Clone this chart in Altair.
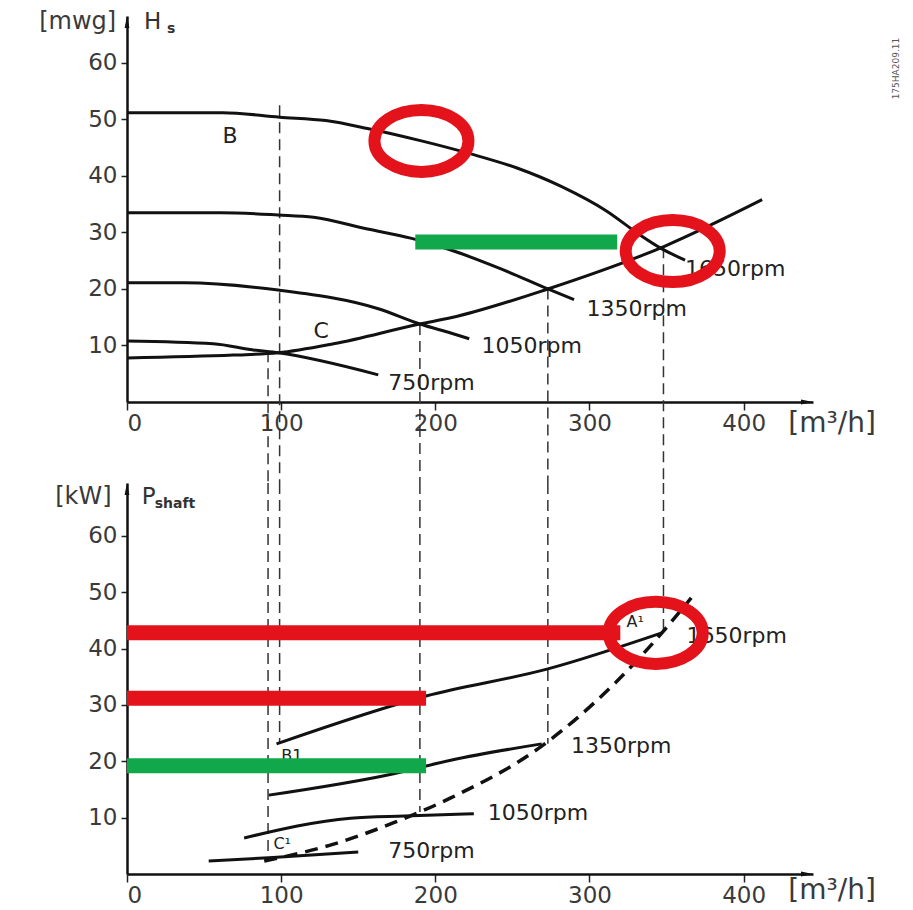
import altair as alt
import pandas as pd

FONT = "DejaVu Sans"
X_MAX = 445
TOP_Y_MAX = 68.3
BOT_Y_MAX = 69.4
W = 686
H_TOP = 386
H_BOT = 391
GAP = 81
X_TICKS = [0, 100, 200, 300, 400]
Y_TICKS = [10, 20, 30, 40, 50, 60]
RED = "#e3121b"
GREEN = "#10a84a"

# ---------------- top panel: head curves H_s [mwg] vs flow [m3/h]
head_q_1650 = [0, 62, 99, 129, 156, 191, 223, 253, 282, 311, 331, 347, 362]
head_h_1650 = [51.2, 51.2, 50.4, 49.8, 48.4, 46.2, 43.9, 41.4, 38.1, 33.8, 29.9, 27.1, 25.1]
head_q_1350 = [0, 61, 98, 121, 156, 184, 210, 243, 273, 290]
head_h_1350 = [33.5, 33.5, 33.1, 32.7, 30.6, 29.0, 26.9, 23.5, 20.0, 18.1]
head_q_1050 = [0, 37, 98, 163, 190, 210, 222]
head_h_1050 = [21.1, 21.1, 19.8, 16.5, 13.8, 12.2, 11.2]
head_q_750 = [0, 56, 82, 98, 163]
head_h_750 = [10.8, 10.3, 9.2, 8.7, 4.8]
system_q = [0, 69, 98, 134, 190, 210, 273, 349, 412]
system_h = [7.8, 8.3, 8.7, 10.3, 13.8, 14.9, 20.0, 27.6, 35.8]

# ---------------- bottom panel: shaft power [kW] vs flow
pow_q_1650 = [97, 194, 273, 347]
pow_p_1650 = [23.1, 31.6, 36.4, 42.8]
pow_q_1350 = [92, 173, 210, 269]
pow_p_1350 = [14.0, 17.8, 20.2, 23.1]
pow_q_1050 = [76, 145, 180, 225]
pow_p_1050 = [6.4, 9.9, 10.3, 10.7]
pow_q_750 = [53, 92, 150]
pow_p_750 = [2.3, 2.9, 3.9]
pow_sys_q = [89, 134, 173, 210, 269, 317, 347, 366]
pow_sys_p = [2.3, 5.3, 9.1, 13.5, 22.7, 34.0, 42.8, 49.0]

# ---------------- vertical dashed guide lines
dash_q = [91.5, 99, 190, 273, 348]
dash_top_start = [9.0, 52.5, 13.8, 20.1, 27.4]
dash_bot_end = [2.3, 23.1, 11.0, 23.1, 42.8]

# ---------------- highlight bars
top_green_q = [187, 318]
top_green_h = 28.3
bot_bar_q2 = [320, 194, 194]
bot_bar_p = [42.8, 31.2, 19.2]
bot_bar_color = [RED, RED, GREEN]

# ---------------- red rings
top_ring_q = [191, 354]
top_ring_h = [46.2, 26.7]
bot_ring_q = [343]
bot_ring_p = [42.8]

# ---------------- labels
top_lbl_text = ["B", "C", "1650rpm", "1350rpm", "1050rpm", "750rpm"]
top_lbl_q = [62, 121, 362, 298, 230, 169.5]
top_lbl_v = [47.1, 12.6, 23.5, 16.5, 9.9, 3.4]
bot_lbl_text = ["1650rpm", "1350rpm", "1050rpm", "750rpm"]
bot_lbl_q = [363, 288, 234, 169.5]
bot_lbl_v = [42.3, 22.7, 10.8, 4.1]
bot_small_text = ["A¹", "B1", "C¹"]
bot_small_q = [324, 100, 95]
bot_small_v = [44.8, 21.0, 5.3]


def series_df(pairs):
    rows = []
    for name, qs, vs in pairs:
        for q, v in zip(qs, vs):
            rows.append({"series": name, "q": q, "v": v})
    return pd.DataFrame(rows)


XAXIS = alt.Axis(values=X_TICKS, title=None, grid=False, labelFontSize=23, labelFont=FONT,
                 labelColor="#3a3a3a", tickSize=8, tickWidth=1.5, tickColor="#222",
                 domainColor="#111", domainWidth=2.5, labelPadding=2)
YAXIS = alt.Axis(values=Y_TICKS, title=None, grid=False, labelFontSize=23, labelFont=FONT,
                 labelColor="#3a3a3a", tickSize=6, tickWidth=1.5, tickColor="#222",
                 domainColor="#111", domainWidth=2.5, labelPadding=4)


def X(field="q"):
    return alt.X(f"{field}:Q", scale=alt.Scale(domain=[0, X_MAX], nice=False, zero=False), axis=XAXIS)


def Y(ymax, field="v"):
    return alt.Y(f"{field}:Q", scale=alt.Scale(domain=[0, ymax], nice=False, zero=False), axis=YAXIS)


RING = ("M-1,0 C-1,-0.3645 -0.5523,-0.66 0,-0.66 C0.5523,-0.66 1,-0.3645 1,0 "
        "C1,0.3645 0.5523,0.66 0,0.66 C-0.5523,0.66 -1,0.3645 -1,0 Z")
ARROW_UP = "M0,0 L-0.4,2 L0.4,2 Z"
ARROW_RIGHT = "M0,0 L-2,-0.4 L-2,0.4 Z"


def panel(ymax, height, curves, dashed_curve, dash_df, bars_df, rings_df, labels_df, small_df,
          unit_lbl, name_lbl, sub_df, unit_df, extra_text=None):
    layers = []
    layers.append(alt.Chart(dash_df).mark_rule(strokeDash=[11, 6], strokeWidth=1.5, color="#333").encode(
        x=X(), y=Y(ymax), y2="v2:Q"))
    layers.append(alt.Chart(curves).mark_line(color="#111", strokeWidth=3, interpolate="monotone").encode(
        x=X(), y=Y(ymax), detail="series:N"))
    if dashed_curve is not None:
        layers.append(alt.Chart(dashed_curve).mark_line(color="#111", strokeWidth=3.5, strokeDash=[13, 8],
                                                         interpolate="monotone").encode(x=X(), y=Y(ymax)))
    layers.append(alt.Chart(labels_df).mark_text(align="left", baseline="middle", fontSize=22, font=FONT,
                                                 color="#222").encode(x=X(), y=Y(ymax), text="t:N"))
    if small_df is not None:
        layers.append(alt.Chart(small_df).mark_text(align="left", baseline="middle", fontSize=16, font=FONT,
                                                    color="#222").encode(x=X(), y=Y(ymax), text="t:N"))
    layers.append(alt.Chart(bars_df).mark_rule(strokeWidth=15, strokeCap="butt").encode(
        x=X(), x2="q2:Q", y=Y(ymax), color=alt.Color("c:N", scale=None)))
    layers.append(alt.Chart(rings_df).mark_point(shape=RING, size=8836, filled=False, strokeWidth=12,
                                                 color=RED, opacity=1).encode(x=X(), y=Y(ymax)))
    arrows = pd.DataFrame({"q": [0], "v": [ymax]})
    layers.append(alt.Chart(arrows).mark_point(shape=ARROW_UP, size=144, filled=True, color="#111",
                                               opacity=1).encode(x=X(), y=Y(ymax)))
    arrows_r = pd.DataFrame({"q": [X_MAX], "v": [0]})
    layers.append(alt.Chart(arrows_r).mark_point(shape=ARROW_RIGHT, size=144, filled=True, color="#111",
                                                 opacity=1).encode(x=X(), y=Y(ymax)))
    layers.append(alt.Chart(unit_lbl).mark_text(align="right", baseline="middle", fontSize=24, font=FONT,
                                                color="#3a3a3a").encode(x=X(), y=Y(ymax), text="t:N"))
    layers.append(alt.Chart(name_lbl).mark_text(align="left", baseline="middle", fontSize=23, font=FONT,
                                                color="#333").encode(x=X(), y=Y(ymax), text="t:N"))
    layers.append(alt.Chart(sub_df).mark_text(align="left", baseline="middle", fontSize=14, font=FONT,
                                              fontWeight="bold", color="#333").encode(x=X(), y=Y(ymax), text="t:N"))
    layers.append(alt.Chart(unit_df).mark_text(align="left", baseline="middle", fontSize=28, font=FONT,
                                               color="#3a3a3a").encode(x=X(), y=Y(ymax), text="t:N"))
    if extra_text is not None:
        layers.append(alt.Chart(extra_text).mark_text(align="center", baseline="middle", fontSize=9, font=FONT,
                                                      angle=270, color="#555").encode(x=X(), y=Y(ymax), text="t:N"))
    return alt.layer(*layers).properties(width=W, height=height)


gap_top = -GAP * TOP_Y_MAX / H_TOP

top_curves = series_df([("1650", head_q_1650, head_h_1650), ("1350", head_q_1350, head_h_1350),
                        ("1050", head_q_1050, head_h_1050), ("750", head_q_750, head_h_750),
                        ("system", system_q, system_h)])
bot_curves = series_df([("1650", pow_q_1650, pow_p_1650), ("1350", pow_q_1350, pow_p_1350),
                        ("1050", pow_q_1050, pow_p_1050), ("750", pow_q_750, pow_p_750)])
bot_dashed = pd.DataFrame({"q": pow_sys_q, "v": pow_sys_p})

top_dash = pd.DataFrame({"q": dash_q, "v": dash_top_start, "v2": [gap_top] * len(dash_q)})
bot_dash = pd.DataFrame({"q": dash_q, "v": [BOT_Y_MAX] * len(dash_q), "v2": dash_bot_end})

top_bars = pd.DataFrame({"q": [top_green_q[0]], "q2": [top_green_q[1]], "v": [top_green_h], "c": [GREEN]})
bot_bars = pd.DataFrame({"q": [0] * 3, "q2": bot_bar_q2, "v": bot_bar_p, "c": bot_bar_color})

top_rings = pd.DataFrame({"q": top_ring_q, "v": top_ring_h})
bot_rings = pd.DataFrame({"q": bot_ring_q, "v": bot_ring_p})

top_labels = pd.DataFrame({"t": top_lbl_text, "q": top_lbl_q, "v": top_lbl_v})
bot_labels = pd.DataFrame({"t": bot_lbl_text, "q": bot_lbl_q, "v": bot_lbl_v})
bot_small = pd.DataFrame({"t": bot_small_text, "q": bot_small_q, "v": bot_small_v})

top_unit_lbl = pd.DataFrame({"t": ["[mwg]"], "q": [-7], "v": [67.3]})
top_name_lbl = pd.DataFrame({"t": ["H"], "q": [11], "v": [67.3]})
top_sub = pd.DataFrame({"t": ["s"], "q": [26], "v": [66.0]})
top_unit = pd.DataFrame({"t": ["[m³/h]"], "q": [429], "v": [-3.9]})
bot_unit_lbl = pd.DataFrame({"t": ["[kW]"], "q": [-10], "v": [67.0]})
bot_name_lbl = pd.DataFrame({"t": ["P"], "q": [9.5], "v": [67.0]})
bot_sub = pd.DataFrame({"t": ["shaft"], "q": [18], "v": [65.6]})
bot_unit = pd.DataFrame({"t": ["[m³/h]"], "q": [429], "v": [-3.0]})
code_text = pd.DataFrame({"t": ["175HA209.11"], "q": [499], "v": [59]})

top = panel(TOP_Y_MAX, H_TOP, top_curves, None, top_dash, top_bars, top_rings, top_labels, None,
            top_unit_lbl, top_name_lbl, top_sub, top_unit, code_text)
bot = panel(BOT_Y_MAX, H_BOT, bot_curves, bot_dashed, bot_dash, bot_bars, bot_rings, bot_labels, bot_small,
            bot_unit_lbl, bot_name_lbl, bot_sub, bot_unit)

chart = alt.vconcat(top, bot, spacing=GAP, bounds="flush").properties(
    padding={"left": 31, "top": 1, "right": 2, "bottom": 2}
).configure_view(stroke=None)

chart.save("out.html", embed_options={"renderer": "svg", "actions": False})
